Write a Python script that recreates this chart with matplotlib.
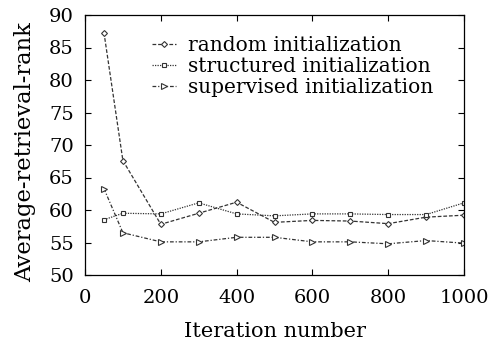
import matplotlib
matplotlib.use('Agg')
import matplotlib.pyplot as plt

ITERS = [50, 100, 200, 300, 400, 500, 600, 700, 800, 900, 1000]
RANDOM_INIT = [87.3, 67.6, 57.8, 59.5, 61.2, 58.1, 58.4, 58.3, 57.9, 58.9, 59.2]
STRUCT_INIT = [58.5, 59.5, 59.4, 61.1, 59.4, 59.1, 59.4, 59.4, 59.3, 59.3, 61.1]
SUPER_INIT = [63.3, 56.5, 55.1, 55.1, 55.8, 55.8, 55.1, 55.1, 54.8, 55.3, 54.9]

X_TICKS = [0, 200, 400, 600, 800, 1000]
Y_TICKS = [50, 55, 60, 65, 70, 75, 80, 85, 90]

plt.rcParams['font.family'] = ['DejaVu Serif']

fig = plt.figure(figsize=(4.88, 3.41), dpi=100)
ax = fig.add_axes([85 / 488, 1 - 275 / 341, 379 / 488, 260 / 341])

ax.plot(ITERS, RANDOM_INIT, linestyle=(0, (3, 1.5)), color='#333333', lw=0.9,
        marker='D', ms=3, mfc='white', mec='#333333', mew=0.8, label='random initialization')
ax.plot(ITERS, STRUCT_INIT, linestyle=(0, (1, 1)), color='#333333', lw=0.9,
        marker='s', ms=3.5, mfc='white', mec='#333333', mew=0.8, label='structured initialization')
ax.plot(ITERS, SUPER_INIT, linestyle=(0, (3, 1.5, 1, 1.5)), color='#333333', lw=0.9,
        marker='>', ms=4, mfc='white', mec='#333333', mew=0.8, label='supervised initialization')

ax.set_xlim(0, 1000)
ax.set_ylim(50, 90)
ax.set_xticks(X_TICKS)
ax.set_yticks(Y_TICKS)
ax.tick_params(direction='in', top=True, right=True, labelsize=14, length=4)
ax.tick_params(axis='y', pad=8)
ax.tick_params(axis='x', pad=10)
for s in ax.spines.values():
    s.set_linewidth(0.9)

ax.set_xlabel('Iteration number', fontsize=15, labelpad=11)
ax.set_ylabel('Average-retrieval-rank', fontsize=16.3)
ax.yaxis.set_label_coords(-0.13, 0.473)

ax.legend(loc='upper left', bbox_to_anchor=(152 / 488, 1 - 36 / 341),
          bbox_transform=fig.transFigure, frameon=False, fontsize=14.5,
          handlelength=1.2, handletextpad=0.6, labelspacing=0.1,
          borderaxespad=0, borderpad=0)

fig.savefig('out.png', dpi=100)
